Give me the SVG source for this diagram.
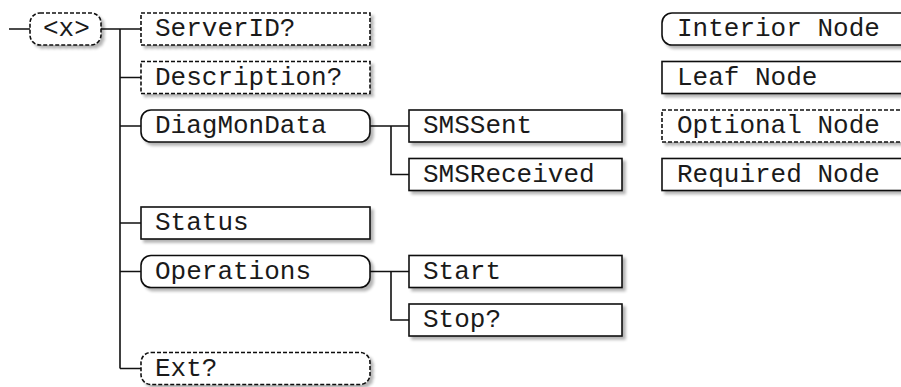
<svg xmlns="http://www.w3.org/2000/svg" width="901" height="387" viewBox="0 0 901 387">
<style>
.t{font-family:"Liberation Mono","Courier New",monospace;font-size:26px;fill:#1a1a1a}
.b{fill:#fff;stroke:#111;stroke-width:1.6}
.d{stroke-dasharray:4 2}
.c{fill:none;stroke:#111;stroke-width:1.6}
</style>
<defs>
<filter id="sh" x="-10%" y="-30%" width="125%" height="180%">
<feGaussianBlur in="SourceAlpha" stdDeviation="1.5"/>
<feOffset dx="2.5" dy="2.5" result="o"/>
<feComponentTransfer><feFuncA type="linear" slope="0.3"/></feComponentTransfer>
<feMerge><feMergeNode/><feMergeNode in="SourceGraphic"/></feMerge>
</filter>
</defs>
<rect width="901" height="387" fill="#fff"/>
<g id="connectors" class="c">
<path d="M9 29H30M101 29H141M120 29V368.5M120 77.5H141M120 126H141M120 223H141M120 271.5H141M120 368.5H141"/>
<path d="M370 126H409M391 126V174.5H409"/>
<path d="M370 271.5H409M391 271.5V320H409"/>
</g>
<g id="n-x"><rect class="b d" filter="url(#sh)" x="30" y="13" width="71" height="32" rx="10"/><text class="t" x="43" y="36">&lt;x&gt;</text></g>
<g id="n-serverid"><rect class="b d" filter="url(#sh)" x="141" y="13" width="229" height="32"/><text class="t" x="155" y="36">ServerID?</text></g>
<g id="n-description"><rect class="b d" filter="url(#sh)" x="141" y="61.5" width="229" height="32"/><text class="t" x="155" y="84.5">Description?</text></g>
<g id="n-diagmondata"><rect class="b" filter="url(#sh)" x="141" y="110" width="229" height="32" rx="10"/><text class="t" x="155" y="133">DiagMonData</text></g>
<g id="n-smssent"><rect class="b" filter="url(#sh)" x="409" y="110" width="213" height="32"/><text class="t" x="423" y="133">SMSSent</text></g>
<g id="n-smsreceived"><rect class="b" filter="url(#sh)" x="409" y="158.5" width="213" height="32"/><text class="t" x="423" y="181.5">SMSReceived</text></g>
<g id="n-status"><rect class="b" filter="url(#sh)" x="141" y="207" width="229" height="32"/><text class="t" x="155" y="230">Status</text></g>
<g id="n-operations"><rect class="b" filter="url(#sh)" x="141" y="255.5" width="229" height="32" rx="10"/><text class="t" x="155" y="278.5">Operations</text></g>
<g id="n-start"><rect class="b" filter="url(#sh)" x="409" y="255.5" width="213" height="32"/><text class="t" x="423" y="278.5">Start</text></g>
<g id="n-stop"><rect class="b" filter="url(#sh)" x="409" y="304" width="213" height="32"/><text class="t" x="423" y="327">Stop?</text></g>
<g id="n-ext"><rect class="b d" filter="url(#sh)" x="141" y="352.5" width="229" height="32" rx="10"/><text class="t" x="155" y="375.5">Ext?</text></g>
<g id="legend-interior"><rect class="b" filter="url(#sh)" x="662" y="13" width="250" height="32" rx="10"/><text class="t" x="677" y="36">Interior Node</text></g>
<g id="legend-leaf"><rect class="b" filter="url(#sh)" x="662" y="61.5" width="250" height="32"/><text class="t" x="677" y="84.5">Leaf Node</text></g>
<g id="legend-optional"><rect class="b d" filter="url(#sh)" x="662" y="110" width="250" height="32"/><text class="t" x="677" y="133">Optional Node</text></g>
<g id="legend-required"><rect class="b" filter="url(#sh)" x="662" y="158.5" width="250" height="32"/><text class="t" x="677" y="181.5">Required Node</text></g>
</svg>
